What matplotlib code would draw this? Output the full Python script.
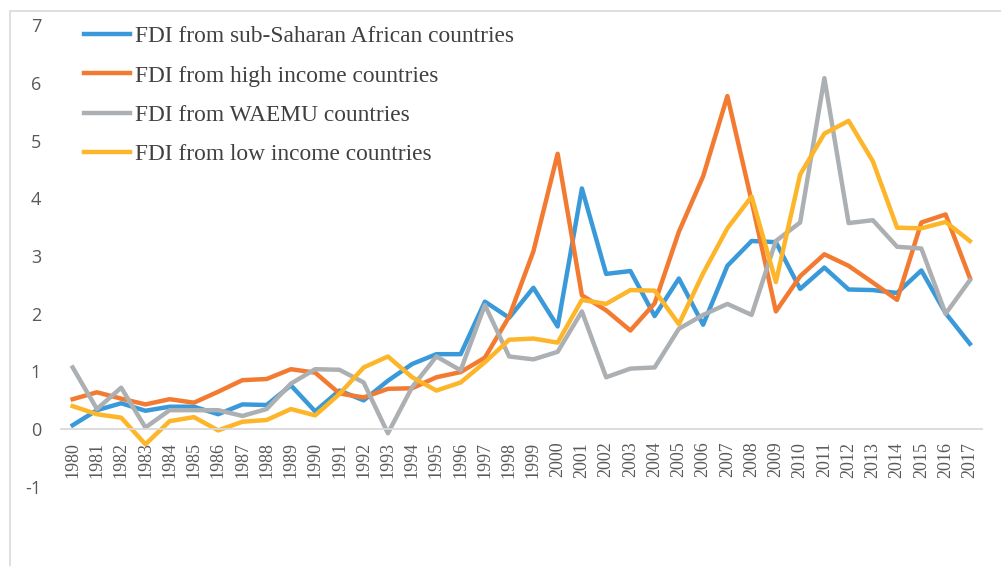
import matplotlib.pyplot as plt
from matplotlib.patches import Rectangle

# FDI series 1980-2017
years = [str(y) for y in range(1980, 2018)]

ssa = [0.07, 0.33, 0.45, 0.32, 0.39, 0.39, 0.26, 0.43, 0.42, 0.76, 0.31,
       0.67, 0.50, 0.84, 1.13, 1.30, 1.30, 2.21, 1.93, 2.45, 1.78, 4.17,
       2.69, 2.74, 1.96, 2.61, 1.81, 2.83, 3.26, 3.24, 2.43, 2.80, 2.42,
       2.41, 2.36, 2.75, 2.01, 1.48]
high_income = [0.52, 0.64, 0.53, 0.43, 0.52, 0.46, 0.65, 0.85, 0.87, 1.04, 0.98,
               0.62, 0.55, 0.70, 0.71, 0.90, 0.99, 1.24, 1.95, 3.08, 4.77, 2.32,
               2.06, 1.71, 2.18, 3.42, 4.38, 5.77, 3.95, 2.04, 2.65, 3.03, 2.83,
               2.54, 2.24, 3.58, 3.72, 2.62]
waemu = [1.07, 0.35, 0.72, 0.03, 0.33, 0.33, 0.33, 0.23, 0.35, 0.79, 1.04,
         1.03, 0.81, -0.07, 0.73, 1.26, 1.02, 2.15, 1.26, 1.21, 1.34, 2.04,
         0.90, 1.05, 1.07, 1.74, 1.98, 2.17, 1.98, 3.26, 3.58, 6.08, 3.57,
         3.62, 3.16, 3.13, 2.00, 2.58]
low_income = [0.40, 0.26, 0.20, -0.26, 0.14, 0.21, -0.02, 0.13, 0.16, 0.35, 0.24,
              0.61, 1.07, 1.26, 0.90, 0.67, 0.81, 1.16, 1.55, 1.57, 1.50, 2.24,
              2.17, 2.41, 2.40, 1.82, 2.70, 3.48, 4.03, 2.55, 4.41, 5.12, 5.34,
              4.64, 3.49, 3.48, 3.59, 3.26]

series = [
    ('FDI from sub-Saharan African countries', ssa, '#3a9ad9'),
    ('FDI from high income countries', high_income, '#f27b31'),
    ('FDI from WAEMU countries', waemu, '#adb0b3'),
    ('FDI from low income countries', low_income, '#fdb52a'),
]

fig = plt.figure(figsize=(10.01, 5.66), dpi=100)
ax = fig.add_axes([0.0605, 0.1396, 0.9205, 0.8162])

x = list(range(len(years)))
for label, vals, col in series:
    ax.plot(x, vals, color=col, lw=3.2, label=label)

ax.set_xlim(-0.5, len(years) - 0.5)
ax.set_ylim(-1, 7)
ax.set_yticks(range(-1, 8))
ax.set_yticklabels([str(v) for v in range(-1, 8)], fontsize=13,
                   color='#595959', fontfamily='Open Sans')

# category axis sits on the zero line
for side in ['top', 'right', 'left']:
    ax.spines[side].set_visible(False)
ax.spines['bottom'].set_position(('data', 0))
ax.spines['bottom'].set_color('#d9d9d9')
ax.spines['bottom'].set_linewidth(1.3)

ax.set_xticks(x)
ax.set_xticklabels(years, rotation=90, fontsize=13, color='#595959',
                   fontfamily='Liberation Serif')
ax.tick_params(axis='x', length=0, pad=9)
ax.tick_params(axis='y', length=0, pad=14)

leg = ax.legend(loc='upper left', bbox_to_anchor=(84 / 1001, 1 - 26 / 566),
                bbox_transform=fig.transFigure, frameon=False,
                prop={'family': 'Liberation Serif', 'size': 16.8},
                handlelength=1.95, handletextpad=0.25, labelspacing=0.77,
                borderpad=0, borderaxespad=0)
for t in leg.get_texts():
    t.set_color('#404040')

# outer chart border (only top and left are visible in the crop)
fig.patches.append(Rectangle((10 / 1001, -0.1), 1.2, 1 - 11 / 566 + 0.1,
                             transform=fig.transFigure, fill=False,
                             edgecolor='#d9d9d9', lw=1.2))

fig.savefig('out.png', dpi=100)
